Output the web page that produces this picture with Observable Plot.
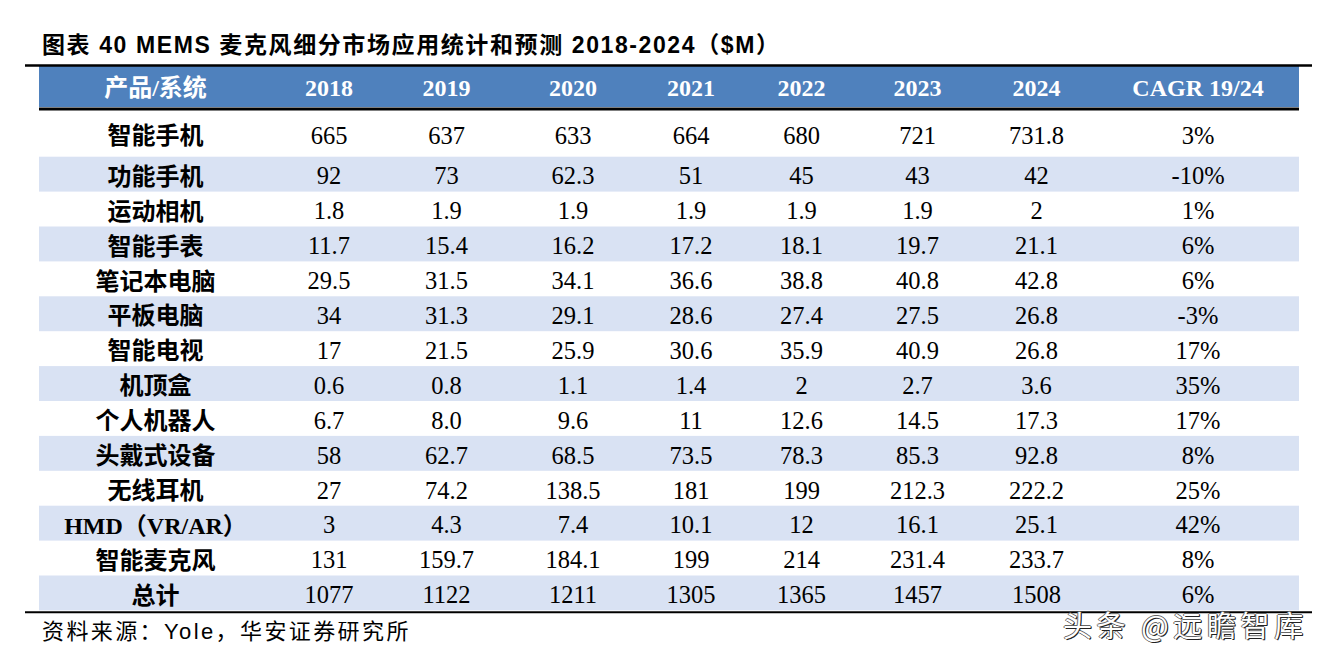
<!DOCTYPE html>
<html><head><meta charset="utf-8">
<script src="https://cdn.jsdelivr.net/npm/d3@7"></script>
<script src="https://cdn.jsdelivr.net/npm/@observablehq/plot@0.6"></script>
<style>
html,body{margin:0;padding:0;background:#fff;}
body{width:1327px;height:663px;overflow:hidden;position:relative;}
#title{position:absolute;left:42px;top:34px;font-weight:bold;font-size:23px;line-height:23px;font-family:"Liberation Sans","Noto Sans CJK SC",sans-serif;letter-spacing:1.6px;white-space:nowrap;color:#000;}
#chart{position:absolute;left:0;top:60px;}
#source{position:absolute;left:42px;top:621px;font-size:22px;line-height:22px;font-family:"Liberation Sans","Noto Sans CJK SC",sans-serif;letter-spacing:2.4px;white-space:nowrap;color:#000;}
#wm{position:absolute;left:1063px;top:611px;font-size:29px;line-height:26px;font-family:"Noto Sans CJK SC",sans-serif;letter-spacing:4.6px;white-space:nowrap;color:#fff;text-shadow:1px 1px 0 #222,-1px 0 0 #666,0 -1px 0 #666,1px 0 0 #444;}
</style></head>
<body>
<div id="title">图表 40 MEMS 麦克风细分市场应用统计和预测 2018-2024（$M）</div>
<div id="chart"></div>
<div id="source">资料来源：Yole，华安证券研究所</div>
<div id="wm">头条 @远瞻智库</div>
<script>
// ---- data ----
const rowLabels = ["智能手机","功能手机","运动相机","智能手表","笔记本电脑","平板电脑","智能电视","机顶盒","个人机器人","头戴式设备","无线耳机","HMD（VR/AR）","智能麦克风","总计"];
const years = ["2018","2019","2020","2021","2022","2023","2024"];
const headerFirst = "产品/系统";
const headerLast = "CAGR 19/24";
const v2018 = ["665","92","1.8","11.7","29.5","34","17","0.6","6.7","58","27","3","131","1077"];
const v2019 = ["637","73","1.9","15.4","31.5","31.3","21.5","0.8","8.0","62.7","74.2","4.3","159.7","1122"];
const v2020 = ["633","62.3","1.9","16.2","34.1","29.1","25.9","1.1","9.6","68.5","138.5","7.4","184.1","1211"];
const v2021 = ["664","51","1.9","17.2","36.6","28.6","30.6","1.4","11","73.5","181","10.1","199","1305"];
const v2022 = ["680","45","1.9","18.1","38.8","27.4","35.9","2","12.6","78.3","199","12","214","1365"];
const v2023 = ["721","43","1.9","19.7","40.8","27.5","40.9","2.7","14.5","85.3","212.3","16.1","231.4","1457"];
const v2024 = ["731.8","42","2","21.1","42.8","26.8","26.8","3.6","17.3","92.8","222.2","25.1","233.7","1508"];
const cagr = ["3%","-10%","1%","6%","6%","-3%","17%","35%","17%","8%","25%","42%","8%","6%"];

// ---- layout (not data) ----
const W = 1327, H = 555;
const colX = [155, 328.5, 446, 572.5, 690.5, 801, 917, 1036, 1197.5];
const tableLeft = 39, tableRight = 1299, ruleLeft = 25, ruleRight = 1312;
const topRuleY = 5, headerTop = 6, headerBottom = 47, headerRuleY = 48.5;
const firstRowTop = 50, firstRowH = 46.7, rowH = 34.9;
const rowTop = i => i === 0 ? firstRowTop : firstRowTop + firstRowH + (i - 1) * rowH;
const rowBottom = i => rowTop(i) + (i === 0 ? firstRowH : rowH);
const rowMid = i => (rowTop(i) + rowBottom(i)) / 2;
const bottomRuleY = rowBottom(rowLabels.length - 1) + 1.3;

const series = [v2018, v2019, v2020, v2021, v2022, v2023, v2024, cagr];
const headerCells = [headerFirst, ...years, headerLast].map((t, j) => ({t, j}));
const labelCells = rowLabels.map((t, i) => ({t, i}));
const valueCells = [];
series.forEach((arr, k) => arr.forEach((t, i) => valueCells.push({t, i, j: k + 1})));
const bandRows = rowLabels.map((_, i) => i).filter(i => i % 2 === 1);

const serifCJK = '"Liberation Serif","Times New Roman","Noto Sans CJK SC",serif';

const chart = Plot.plot({
  width: W, height: H,
  marginTop: 0, marginRight: 0, marginBottom: 0, marginLeft: 0,
  x: {type: "linear", domain: [0, W], range: [0, W], axis: null},
  y: {type: "linear", domain: [0, H], range: [0, H], axis: null},
  style: {background: "transparent", overflow: "visible"},
  marks: [
    Plot.rect(bandRows, {x1: () => tableLeft, x2: () => tableRight, y1: i => rowTop(i), y2: i => rowBottom(i), fill: "#D9E2F3"}),
    Plot.rect([0], {x1: () => tableLeft, x2: () => tableRight, y1: () => headerTop, y2: () => headerBottom, fill: "#4F81BD"}),
    Plot.ruleY([topRuleY], {x1: ruleLeft, x2: ruleRight, stroke: "#000", strokeWidth: 2.5}),
    Plot.ruleY([headerRuleY], {x1: tableLeft, x2: tableRight, stroke: "#000", strokeWidth: 3}),
    Plot.ruleY([bottomRuleY], {x1: ruleLeft, x2: ruleRight, stroke: "#000", strokeWidth: 2}),
    Plot.text(headerCells, {x: d => colX[d.j], y: () => (headerTop + headerBottom) / 2, dy: 1.5, text: "t", fill: "#fff", fontSize: 24, fontWeight: "bold", fontFamily: serifCJK}),
    Plot.text(labelCells, {x: () => colX[0], y: d => rowMid(d.i), dy: 2.5, text: "t", fill: "#000", fontSize: 24, fontWeight: "bold", fontFamily: serifCJK}),
    Plot.text(valueCells, {x: d => colX[d.j], y: d => rowMid(d.i), dy: 2, text: "t", fill: "#000", fontSize: 24.5, fontFamily: serifCJK})
  ]
});
document.getElementById("chart").appendChild(chart);
</script>
</body></html>
